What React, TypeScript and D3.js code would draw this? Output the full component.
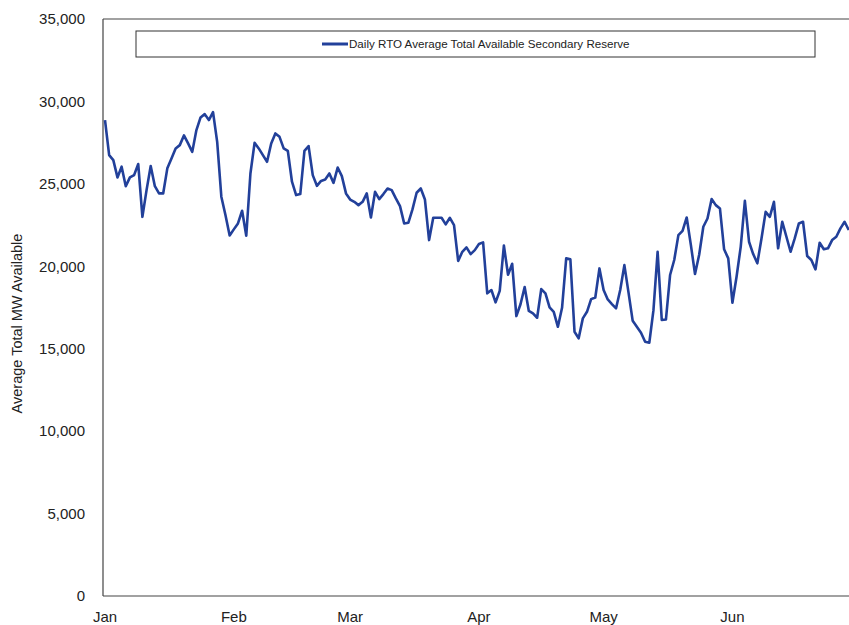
import * as React from 'react';
import * as d3 from 'd3';

// daily values, one array per month
const jan = [28870, 26740, 26440, 25390, 26040, 24860, 25390, 25530, 26200, 23000, 24620, 26080, 24860, 24420, 24420, 25940, 26540, 27150, 27350, 27940, 27450, 26940, 28260, 29030, 29230, 28870, 29350, 27550, 24220, 23100, 21870];
const feb = [22240, 22600, 23370, 21850, 25630, 27490, 27150, 26740, 26340, 27450, 28060, 27850, 27150, 27000, 25130, 24320, 24380, 27000, 27290, 25530, 24880, 25180, 25260, 25630, 25060, 25990, 25470, 24420];
const mar = [24050, 23910, 23710, 23910, 24420, 22960, 24520, 24070, 24380, 24720, 24620, 24120, 23650, 22600, 22640, 23450, 24460, 24720, 24050, 21590, 22940, 22940, 22940, 22540, 22940, 22500, 20330, 20880, 21150, 20740, 20980];
const apr = [21350, 21450, 18360, 18560, 17810, 18510, 21260, 19490, 20150, 16980, 17700, 18740, 17290, 17140, 16880, 18620, 18360, 17510, 17240, 16330, 17480, 20480, 20420, 16030, 15630, 16840, 17240, 18010, 18110, 19870];
const may = [18560, 17990, 17710, 17450, 18560, 20070, 18400, 16690, 16330, 15970, 15420, 15360, 17340, 20880, 16740, 16770, 19470, 20380, 21890, 22150, 22960, 21300, 19530, 20700, 22400, 22900, 24080, 23710, 23510, 21030, 20480];
const jun = [17790, 19370, 21180, 23970, 21490, 20740, 20180, 21690, 23300, 23000, 23910, 21090, 22700, 21790, 20880, 21690, 22600, 22700, 20620, 20380, 19810, 21430, 21030, 21090, 21590, 21790, 22300, 22700, 22200];

const monthLabels = ['Jan', 'Feb', 'Mar', 'Apr', 'May', 'Jun'];
const yTicks = [0, 5000, 10000, 15000, 20000, 25000, 30000, 35000];
const seriesName = 'Daily RTO Average Total Available Secondary Reserve';
const yTitle = 'Average Total MW Available';

const start = new Date(2021, 0, 1);
const values = [...jan, ...feb, ...mar, ...apr, ...may, ...jun];
const data = values.map((v, i) => ({ date: d3.timeDay.offset(start, i), value: v }));

export default function App() {
  const width = 849;
  const height = 625;
  const left = 105;
  const top = 19;
  const bottom = 596;
  const color = '#22409a';
  const textColor = '#222';
  const font = '"Liberation Sans", Arial, sans-serif';

  const x = d3
    .scaleTime()
    .domain([start, new Date(2021, 6, 1)])
    .range([left, left + 181 * 4.155]);
  const y = d3.scaleLinear().domain([0, 35000]).range([bottom, top]);

  const line = d3
    .line<{ date: Date; value: number }>()
    .x(d => x(d.date))
    .y(d => y(d.value));

  const months = d3.timeMonth.range(start, new Date(2021, 6, 1));
  const fmt = d3.format(',');

  return (
    <div>
      <style>{'body{margin:0}'}</style>
      <svg width={width} height={height} style={{ display: 'block', background: '#fff' }} fontFamily={font}>
        {/* plot frame */}
        <line x1={left - 2} x2={left - 2} y1={top} y2={bottom} stroke="#444" strokeWidth={1.2} />
        <line x1={left - 2} x2={width + 20} y1={top} y2={top} stroke="#444" strokeWidth={1.2} />
        <line x1={left - 2} x2={width + 20} y1={bottom} y2={bottom} stroke="#444" strokeWidth={1.2} />

        {yTicks.map(t => (
          <text key={t} x={85} y={y(t)} dy="0.35em" textAnchor="end" fontSize={15} fill={textColor}>
            {fmt(t)}
          </text>
        ))}
        {months.map((m, i) => (
          <text key={i} x={x(m)} y={622} textAnchor="middle" fontSize={15} fill={textColor}>
            {monthLabels[i]}
          </text>
        ))}
        <text
          transform={`translate(22,${(top + bottom) / 2 + 16}) rotate(-90)`}
          textAnchor="middle"
          fontSize={14.5}
          fill={textColor}
        >
          {yTitle}
        </text>

        {/* legend */}
        <rect x={136} y={31} width={679} height={26} fill="#fff" stroke="#333" strokeWidth={1} />
        <line x1={322} x2={348} y1={44} y2={44} stroke={color} strokeWidth={3} />
        <text x={349} y={44} dy="0.35em" fontSize={11.6} fill={textColor}>
          {seriesName}
        </text>

        <path d={line(data) || ''} fill="none" stroke={color} strokeWidth={2.6} strokeLinejoin="round" />
      </svg>
    </div>
  );
}
